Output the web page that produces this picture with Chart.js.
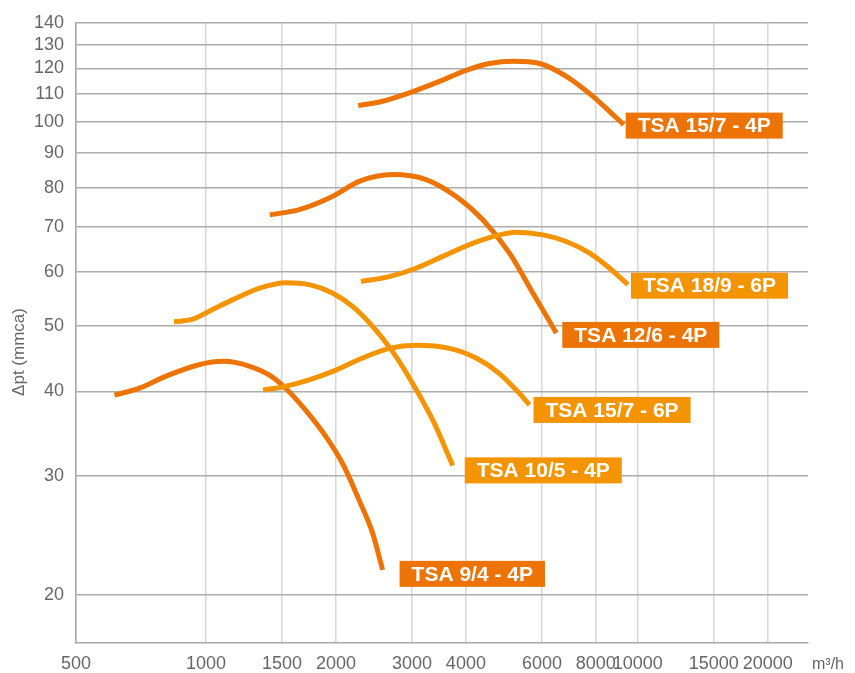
<!DOCTYPE html>
<html>
<head>
<meta charset="utf-8">
<script src="https://cdn.jsdelivr.net/npm/chart.js@4"></script>
<style>
  body { margin: 0; background: #fff; }
  #wrap { width: 855px; height: 673px; }
</style>
</head>
<body>
<div id="wrap"><canvas id="chartCurvas"></canvas></div>
<script>
// === Datos (m3/h , mmca) ===
const flowTicks = [500, 1000, 1500, 2000, 3000, 4000, 6000, 8000, 10000, 15000, 20000];
const pressureTicks = [20, 30, 40, 50, 60, 70, 80, 90, 100, 110, 120, 130, 140];

const seriesNames = ["TSA 15/7 - 4P", "TSA 18/9 - 6P", "TSA 12/6 - 4P", "TSA 15/7 - 6P", "TSA 10/5 - 4P", "TSA 9/4 - 4P"];

const tsa157_4pX = [2253, 2565, 2958, 3472, 4006, 4536, 5137, 5924, 6832, 7877, 8765, 9279];
const tsa157_4pY = [105.7, 107.3, 110.4, 114.8, 119.2, 122.0, 122.9, 122.0, 116.8, 109.1, 102.5, 99.1];

const tsa189_6pX = [2285, 2658, 3065, 3534, 4076, 4617, 5232, 6030, 6832, 7739, 8610, 9495];
const tsa189_6pY = [58.1, 59.1, 60.8, 63.3, 65.9, 67.7, 68.7, 68.1, 66.6, 64.0, 60.8, 57.5];

const tsa126_4pX = [1405, 1644, 1963, 2265, 2706, 3234, 3797, 4377, 5047, 5716, 6478];
const tsa126_4pY = [72.9, 74.2, 77.6, 81.7, 83.6, 82.2, 77.6, 71.7, 64.0, 55.9, 48.8];

const tsa157_6pX = [1356, 1503, 1734, 2000, 2305, 2658, 3065, 3664, 4224, 4785, 5325, 5616];
const tsa157_6pY = [40.2, 40.6, 41.6, 43.0, 44.8, 46.3, 46.8, 46.3, 44.8, 42.5, 39.7, 38.2];

const tsa105_4pX = [843, 929, 1016, 1151, 1327, 1531, 1734, 1963, 2185, 2432, 2706, 3011, 3351, 3729];
const tsa105_4pY = [50.7, 51.1, 52.5, 54.6, 56.8, 57.9, 57.5, 55.9, 53.4, 49.9, 45.8, 41.1, 36.3, 31.1];

const tsa94_4pX = [614, 699, 806, 963, 1101, 1258, 1400, 1531, 1703, 1896, 2072, 2265, 2432, 2565];
const tsa94_4pY = [39.5, 40.4, 42.1, 43.8, 44.3, 43.6, 42.3, 40.4, 37.5, 34.3, 31.3, 27.6, 24.7, 21.8];

const flowMin = 500;
const flowMax = 24800;
const pressureMin = 17;
const pressureMax = 140;

// === Colores ===
const naranjaOscuro = "#EC7304";
const naranjaClaro = "#F39400";
const texto = "#666666";

const seriesX = [tsa157_4pX, tsa189_6pX, tsa126_4pX, tsa157_6pX, tsa105_4pX, tsa94_4pX];
const seriesY = [tsa157_4pY, tsa189_6pY, tsa126_4pY, tsa157_6pY, tsa105_4pY, tsa94_4pY];
const seriesColors = [naranjaOscuro, naranjaClaro, naranjaOscuro, naranjaClaro, naranjaClaro, naranjaOscuro];

// desplazamiento de cada etiqueta respecto al final de su curva (px)
const labelOffsets = [[2, -12], [3, -12], [6, -11], [4, -8], [12, -8], [17, -9]];

const datasets = seriesNames.map(function (name, i) {
  return {
    label: name,
    data: seriesX[i].map(function (x, j) { return { x: x, y: seriesY[i][j] }; }),
    borderColor: seriesColors[i],
    backgroundColor: seriesColors[i],
    borderWidth: 5,
    borderCapStyle: "butt",
    pointRadius: 0,
    cubicInterpolationMode: "monotone",
    fill: false
  };
});

// === Etiquetas y textos de ejes ===
const etiquetas = {
  id: "etiquetas",
  afterDatasetsDraw(chart) {
    const ctx = chart.ctx;
    ctx.save();
    chart.data.datasets.forEach(function (ds, i) {
      const meta = chart.getDatasetMeta(i);
      const last = meta.data[meta.data.length - 1];
      const off = labelOffsets[i];
      ctx.font = 'bold 21px "Liberation Sans", Arial, sans-serif';
      const w = ctx.measureText(ds.label).width + 24;
      const bx = last.x + off[0];
      const by = last.y + off[1];
      ctx.fillStyle = ds.borderColor;
      ctx.fillRect(bx, by, w, 26);
      ctx.fillStyle = "#fff";
      ctx.textBaseline = "middle";
      ctx.textAlign = "left";
      ctx.fillText(ds.label, bx + 12, by + 14);
    });

    // titulo eje Y
    ctx.fillStyle = texto;
    ctx.font = '17px "Liberation Sans", Arial, sans-serif';
    ctx.translate(19, 352);
    ctx.rotate(-Math.PI / 2);
    ctx.textAlign = "center";
    ctx.textBaseline = "middle";
    ctx.fillText("Δpt (mmca)", 0, 0);
    ctx.restore();

    // unidad eje X
    ctx.save();
    ctx.fillStyle = texto;
    ctx.font = '16px "Liberation Sans", Arial, sans-serif';
    ctx.textAlign = "left";
    ctx.textBaseline = "middle";
    ctx.fillText("m³/h", 812, 665);
    ctx.restore();
  }
};

new Chart(document.getElementById("chartCurvas"), {
  type: "line",
  data: { datasets: datasets },
  plugins: [etiquetas],
  options: {
    responsive: true,
    maintainAspectRatio: false,
    animation: false,
    layout: {
      padding: { left: 0, top: 23, right: 47, bottom: 0 }
    },
    plugins: {
      legend: { display: false },
      tooltip: { enabled: false }
    },
    scales: {
      x: {
        type: "logarithmic",
        min: flowMin,
        max: flowMax,
        afterBuildTicks: function (scale) {
          scale.ticks = flowTicks.map(function (v) { return { value: v }; });
        },
        afterFit: function (scale) { scale.height = 30; },
        grid: { color: "#d6d6d6", lineWidth: 1.5, drawTicks: false },
        border: { color: "#a8a8a8", width: 1.5 },
        ticks: {
          autoSkip: false,
          maxRotation: 0,
          padding: 10,
          color: texto,
          font: { family: '"Liberation Sans", Arial, sans-serif', size: 18 },
          callback: function (v) { return String(v); }
        }
      },
      y: {
        type: "logarithmic",
        min: pressureMin,
        max: pressureMax,
        afterBuildTicks: function (scale) {
          scale.ticks = pressureTicks.map(function (v) { return { value: v }; });
        },
        afterFit: function (scale) { scale.width = 76; },
        grid: { color: "#acacac", lineWidth: 1.5, drawTicks: false },
        border: { color: "#a8a8a8", width: 1.5 },
        ticks: {
          padding: 12,
          color: texto,
          font: { family: '"Liberation Sans", Arial, sans-serif', size: 18 },
          callback: function (v) { return String(v); }
        }
      }
    }
  }
});
</script>
</body>
</html>
